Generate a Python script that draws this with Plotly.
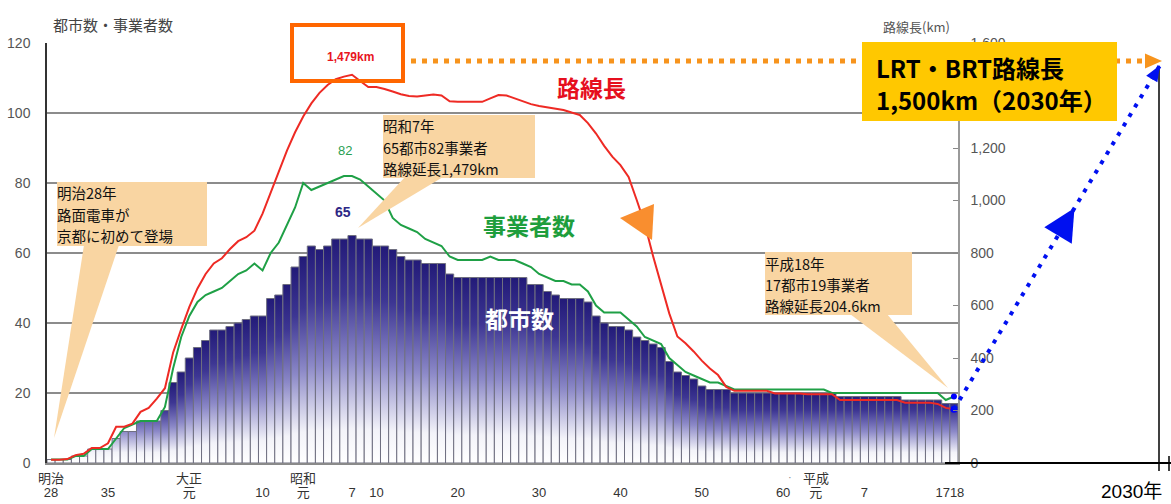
import math
import plotly.graph_objects as go

# ---------------- data ----------------
years = list(range(1895, 2007))  # 明治28年 .. 平成18年

cities = [1, 1, 1, 2, 2, 4, 4, 4, 7, 9,
          9, 12, 12, 12, 15, 23, 26, 30, 33, 35,
          38, 38, 39, 40, 41, 42, 42, 47, 48, 51,
          56, 59, 62, 61, 62, 64, 64, 65, 64, 64,
          62, 62, 61, 59, 58, 58, 57, 57, 57, 54,
          53, 53, 53, 53, 53, 53, 53, 53, 53, 51,
          51, 49, 48, 47, 47, 47, 46, 42, 40, 39,
          39, 38, 36, 35, 34, 33, 29, 26, 25, 24,
          22, 21, 21, 21, 20, 20, 20, 20, 20, 20,
          20, 20, 20, 20, 20, 20, 20, 19, 19, 19,
          19, 19, 19, 19, 19, 18, 18, 18, 18, 18,
          17, 17]

operators = [1, 1, 1, 2, 2, 4, 4, 4, 7, 10,
             11, 12, 12, 12, 16, 27, 36, 42, 46, 48,
             49, 50, 52, 54, 55, 57, 55, 60, 63, 68,
             73, 80, 78, 79, 80, 81, 82, 82, 81, 79,
             77, 75, 70, 68, 67, 66, 64, 63, 62, 59,
             58, 58, 58, 58, 59, 58, 58, 58, 57, 56,
             54, 53, 52, 52, 51, 51, 49, 45, 43, 43,
             43, 41, 39, 36, 35, 34, 30, 28, 26, 25,
             24, 23, 23, 22, 21, 21, 21, 21, 21, 21,
             21, 21, 21, 21, 21, 21, 20, 20, 20, 20,
             20, 20, 20, 20, 20, 20, 20, 20, 20, 20,
             18, 19]

route_km = [12, 12, 15, 30, 35, 57, 57, 75, 138, 138,
            150, 195, 210, 245, 285, 420, 510, 595, 665, 720,
            760, 780, 815, 845, 860, 885, 950, 1030, 1110, 1190,
            1260, 1320, 1370, 1410, 1440, 1462, 1472, 1479, 1455, 1432,
            1432, 1425, 1415, 1405, 1398, 1396, 1400, 1404, 1400, 1378,
            1376, 1376, 1376, 1376, 1389, 1402, 1400, 1390, 1378, 1367,
            1360, 1355, 1351, 1345, 1335, 1326, 1295, 1255, 1208, 1167,
            1135, 1090, 1002, 910, 790, 680, 570, 482, 456, 425,
            390, 360, 335, 290, 275, 275, 275, 275, 275, 265,
            265, 265, 265, 262, 262, 262, 262, 240, 240, 240,
            240, 240, 240, 240, 240, 230, 230, 230, 230, 225,
            210, 204.6]

tick_years = [1895, 1902, 1912, 1921, 1926, 1932, 1935, 1945, 1955, 1965,
              1975, 1985, 1989, 1995, 2005.5]
tick_text = ['28', '35', '元', '10', '元', '7', '10', '20', '30', '40',
             '50', '60', '元', '7', '1718']
era_years = [1895, 1912, 1926, 1989]
era_names = ['明治', '大正', '昭和', '平成']
km_ticks = [0, 200, 400, 600, 800, 1000, 1200, 1600]  # 1,400 is hidden by the box

target_km = 1500  # 2030年目標

# ---------------- geometry helpers ----------------
W, H = 1171, 504
L, R, T, B = 47, 958, 43, 463
X0, X1 = years[0] - 0.5, years[-1] + 0.5
Y1MAX, Y2MAX = 120, 1600


def px_x(px):
    return (px - L) / (R - L)


def px_y(py):
    return (B - py) / (B - T)


def year_px(yr):
    return L + (yr - X0) / (X1 - X0) * (R - L)


def km_py(km):
    return B - km / Y2MAX * (B - T)


def poly_path(pts):
    return 'M ' + ' L '.join(f'{px_x(x):.5f},{px_y(y):.5f}' for x, y in pts) + ' Z'


def tri_path(tip, frm, length, width):
    dx, dy = tip[0] - frm[0], tip[1] - frm[1]
    n = math.hypot(dx, dy)
    ux, uy = dx / n, dy / n
    bx, by = tip[0] - ux * length, tip[1] - uy * length
    nx, ny = -uy, ux
    return poly_path([tip, (bx + nx * width / 2, by + ny * width / 2),
                      (bx - nx * width / 2, by - ny * width / 2)])


JP = 'Noto Sans CJK JP, sans-serif'
NUM = 'Liberation Sans, Noto Sans CJK JP, sans-serif'

fig = go.Figure()

# ---------------- bars (都市数) with vertical gradient ----------------
bar_scale = [[0, '#ffffff'], [0.15, '#f3f3f9'], [0.45, '#8c89c8'],
             [0.75, '#3d3693'], [1, '#221a78']]
for yr, v in zip(years, cities):
    fig.add_trace(go.Scatter(
        x=[yr - 0.5, yr - 0.5, yr + 0.5, yr + 0.5, yr - 0.5],
        y=[0, v, v, 0, 0],
        mode='lines', fill='toself',
        line=dict(color='#6f6f80', width=1),
        fillgradient=dict(type='vertical', colorscale=bar_scale,
                          start=0, stop=max(v, 20)),
        hoverinfo='skip', showlegend=False))

# ---------------- lines ----------------
fig.add_trace(go.Scatter(x=years, y=operators, mode='lines',
                         line=dict(color='#1fa046', width=2),
                         name='事業者数', showlegend=False))
fig.add_trace(go.Scatter(x=years, y=route_km, mode='lines', yaxis='y2',
                         line=dict(color='#ee2a24', width=2),
                         name='路線長', showlegend=False))
# end points
fig.add_trace(go.Scatter(x=[years[-1]], y=[operators[-1]], mode='markers',
                         marker=dict(color='#0000ff', size=6), showlegend=False))
fig.add_trace(go.Scatter(x=[years[-1]], y=[route_km[-1]], mode='markers', yaxis='y2',
                         marker=dict(color='#0000ff', size=7), showlegend=False))

shapes = []
ann = []

# ---------------- 2030 extension ----------------
x2030 = 1160
shapes.append(dict(type='line', xref='paper', yref='paper',
                   x0=px_x(945), x1=px_x(1171), y0=0, y1=0,
                   line=dict(color='#000000', width=2), layer='above'))
shapes.append(dict(type='line', xref='paper', yref='paper',
                   x0=px_x(x2030 - 1), x1=px_x(x2030 - 1), y0=px_y(66), y1=px_y(471),
                   line=dict(color='#000000', width=1.5), layer='above'))
shapes.append(dict(type='line', xref='paper', yref='paper',
                   x0=px_x(1169), x1=px_x(1169), y0=px_y(456), y1=px_y(471),
                   line=dict(color='#000000', width=1.5), layer='above'))

# blue dotted projection line
bs = (year_px(years[-1]), km_py(route_km[-1]))
be = (x2030, km_py(target_km) - 4)
shapes.append(dict(type='line', xref='paper', yref='paper',
                   x0=px_x(bs[0]), y0=px_y(bs[1]), x1=px_x(be[0]), y1=px_y(be[1]),
                   line=dict(color='#0010f0', width=4, dash='4px,7px'), layer='above'))
t = 0.585
mid_tip = (bs[0] + (be[0] - bs[0]) * t, bs[1] + (be[1] - bs[1]) * t)
shapes.append(dict(type='path', xref='paper', yref='paper',
                   path=tri_path(mid_tip, bs, 32, 32),
                   fillcolor='#0010f0', line=dict(width=0), layer='above'))
shapes.append(dict(type='path', xref='paper', yref='paper',
                   path=tri_path(be, bs, 16, 13),
                   fillcolor='#0010f0', line=dict(width=0), layer='above'))

# orange dotted line from the peak box to 2030
oy = 61
shapes.append(dict(type='line', xref='paper', yref='paper',
                   x0=px_x(411), x1=px_x(1146), y0=px_y(oy), y1=px_y(oy),
                   line=dict(color='#f7941d', width=5, dash='5px,6px'), layer='above'))
shapes.append(dict(type='path', xref='paper', yref='paper',
                   path=tri_path((1162, oy), (1100, oy), 17, 15),
                   fillcolor='#f7941d', line=dict(width=0), layer='above'))

# orange frame around the peak
shapes.append(dict(type='rect', xref='paper', yref='paper',
                   x0=px_x(292), x1=px_x(403), y0=px_y(25), y1=px_y(81),
                   line=dict(color='#ff6600', width=4), fillcolor='rgba(0,0,0,0)',
                   layer='above'))

# orange triangle on the red line
shapes.append(dict(type='path', xref='paper', yref='paper',
                   path=poly_path([(620, 218), (654, 204), (652, 240)]),
                   fillcolor='#f98e2f', line=dict(width=0), layer='above'))

# yellow box
shapes.append(dict(type='rect', xref='paper', yref='paper',
                   x0=px_x(862), x1=px_x(1117), y0=px_y(42), y1=px_y(121),
                   fillcolor='#ffc800', line=dict(width=0), layer='above'))

# callouts
PEACH = '#f9d5a2'
callouts = [
    ((57, 182, 207, 246), [(84, 245), (119, 245), (54, 438)],
     ['明治28年', '路面電車が', '京都に初めて登場'], 56, 193),
    ((383, 115, 535, 178), [(405, 177), (443, 177), (358, 228)],
     ['昭和7年', '65都市82事業者', '路線延長1,479km'], 382, 126),
    ((765, 252, 912, 315), [(850, 314), (887, 314), (948, 388)],
     ['平成18年', '17都市19事業者', '路線延長204.6km'], 764, 263),
]
LINE_GAP = 21
for (x0, y0, x1, y1), tail, lines, tx, ty in callouts:
    shapes.append(dict(type='rect', xref='paper', yref='paper',
                       x0=px_x(x0), x1=px_x(x1), y0=px_y(y0), y1=px_y(y1),
                       fillcolor=PEACH, line=dict(width=0), layer='above'))
    shapes.append(dict(type='path', xref='paper', yref='paper', path=poly_path(tail),
                       fillcolor=PEACH, line=dict(width=0), layer='above'))
    for k, txt in enumerate(lines):
        ann.append(dict(xref='paper', yref='paper', x=px_x(tx), y=px_y(ty + k * LINE_GAP),
                        xanchor='left', yanchor='middle', align='left', text=txt,
                        borderpad=0, showarrow=False,
                        font=dict(family=JP, size=14.5, color='#111111')))


def label(px, py, text, size, color, xanchor='center', yanchor='middle',
          family=JP, bold=False):
    ann.append(dict(xref='paper', yref='paper', x=px_x(px), y=px_y(py),
                    xanchor=xanchor, yanchor=yanchor, showarrow=False, borderpad=0,
                    text=f'<b>{text}</b>' if bold else text,
                    font=dict(family=family, size=size, color=color)))


label(52, 25, '都市数・事業者数', 15, '#444444', xanchor='left')
label(951, 27, '路線長(km)', 13, '#555555', xanchor='right')
label(350, 57, f'{route_km[years.index(1932)]:,}km', 12, '#e8141e', bold=True, family=NUM)
label(591, 87, '路線長', 23, '#e60f1e', bold=True)
label(345, 150, str(max(operators)), 13, '#2aa050', family=NUM)
label(343, 212, str(max(cities)), 14, '#2d2785', bold=True, family=NUM)
label(529, 225, '事業者数', 23, '#1e9e3c', bold=True)
label(519, 318, '都市数', 23, '#ffffff', bold=True)
label(875, 67, 'LRT・BRT路線長', 24, '#000000', xanchor='left', bold=True)
label(875, 100, f'{target_km:,}km（2030年）', 24, '#000000', xanchor='left', bold=True)
label(1131, 503, '2030年', 19, '#000000', yanchor='bottom', family=NUM)

# era names under the axis
for yr, nm in zip(era_years, era_names):
    ann.append(dict(xref='x', yref='paper', x=yr, y=px_y(477), xanchor='center',
                    yanchor='middle', showarrow=False, text=nm, borderpad=0,
                    font=dict(family=JP, size=13, color='#333333')))
ann.append(dict(xref='x', yref='paper', x=1985.8, y=px_y(477), xanchor='center',
                yanchor='middle', showarrow=False, text='·', borderpad=0,
                font=dict(family=NUM, size=11, color='#888888')))

fig.update_layout(
    width=W, height=H,
    margin=dict(l=L, r=W - R, t=T, b=H - B, pad=0, autoexpand=False),
    plot_bgcolor='white', paper_bgcolor='white',
    showlegend=False,
    xaxis=dict(range=[X0, X1], showgrid=False, zeroline=False, automargin=False,
               showline=True, linecolor='#8a8a8a', linewidth=1.5,
               tickmode='array', tickvals=tick_years, ticktext=tick_text,
               ticks='', ticklabelstandoff=17,
               tickfont=dict(family=NUM, size=13, color='#333333')),
    yaxis=dict(range=[0, Y1MAX], dtick=20, showgrid=True, gridcolor='#8c8c8c',
               gridwidth=1.5, zeroline=False, showline=True, linecolor='#333333',
               linewidth=1.5, ticks='', ticklabelstandoff=12, automargin=False,
               tickfont=dict(family=NUM, size=14, color='#555555')),
    yaxis2=dict(overlaying='y', side='right', range=[0, Y2MAX],
                tickmode='array', tickvals=km_ticks,
                ticktext=[f'{v:,}' for v in km_ticks],
                showgrid=False, zeroline=False, automargin=False,
                showline=True, linecolor='#9a9a9a', linewidth=1.5,
                ticks='inside', ticklen=5, tickcolor='#888888',
                ticklabelstandoff=8,
                tickfont=dict(family=NUM, size=14, color='#555555')),
    shapes=shapes,
    annotations=ann,
)

fig.write_html('out.html')
